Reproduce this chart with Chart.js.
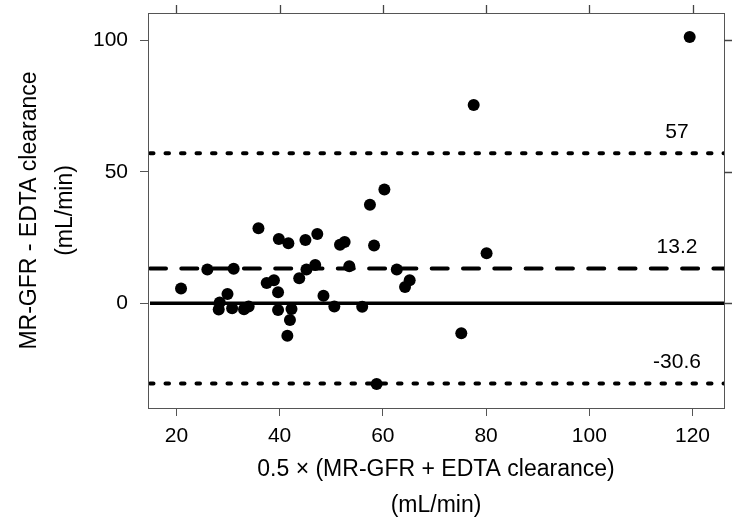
<!DOCTYPE html>
<html lang="en">
<head>
<meta charset="UTF-8">
<title>MR-GFR vs EDTA clearance</title>
<style>
  html, body { margin: 0; padding: 0; background: #fff; }
  #wrap { position: relative; width: 734px; height: 529px; }
</style>
</head>
<body>
<div id="wrap"><canvas id="myChart"></canvas></div>

<script src="https://cdn.jsdelivr.net/npm/chart.js"></script>
<script>
// mean of the two methods (x) and difference MR-GFR - EDTA (y)
const meanVals = [119.45, 77.6, 60.3, 57.5, 35.9, 47.3, 39.85, 45.0, 41.7, 52.6, 51.7,
                  58.3, 80.1, 26.0, 31.1, 46.9, 45.2, 53.5, 62.7, 43.8, 37.5, 38.9, 65.2,
                  64.3, 20.9, 39.7, 29.9, 48.5, 28.4, 28.2, 30.8, 33.1, 34.0, 39.7, 42.3,
                  50.6, 56.0, 42.0, 41.5, 75.2, 58.8];
const diffVals = [101.3, 75.4, 43.2, 37.4, 28.5, 26.3, 24.4, 24.0, 22.8, 23.3, 22.2,
                  21.9, 19.0, 12.8, 13.1, 14.5, 12.8, 14.0, 12.8, 9.5, 7.7, 8.7, 8.7,
                  6.1, 5.6, 4.1, 3.5, 2.8, 0.2, -2.4, -1.9, -2.3, -1.3, -2.6, -2.2,
                  -1.3, -1.4, -6.4, -12.4, -11.5, -30.8];

const xTicks = [20, 40, 60, 80, 100, 120];
const yTicks = [0, 50, 100];

// bias and limits of agreement
const zeroLine = 0;
const bias = 13.2;
const upperLoA = 57;
const lowerLoA = -30.6;
const refLabelX = 117;

const points = meanVals.map((v, i) => ({ x: v, y: diffVals[i] }));

const xMin = 14.5, xMax = 126.1;
const yMin = -39.9, yMax = 110.4;

const axisColor = '#555';
const fontFam = '"Liberation Sans", Arial, Helvetica, sans-serif';

// horizontal reference lines + their numbers, the panel box and top/right ticks
const refLinesPlugin = {
    id: 'refLines',
    beforeDatasetsDraw(chart) {
        const { ctx, chartArea, scales } = chart;
        const lines = [
            { v: zeroLine, dash: [], w: 3.5, cap: 'butt' },
            { v: bias, dash: [16, 15.3], w: 4, cap: 'round' },
            { v: upperLoA, dash: [3.5, 12], w: 4, cap: 'round' },
            { v: lowerLoA, dash: [3.5, 12], w: 4, cap: 'round' }
        ];
        ctx.save();
        ctx.beginPath();
        ctx.rect(chartArea.left, chartArea.top, chartArea.width, chartArea.height);
        ctx.clip();
        ctx.strokeStyle = '#000';
        lines.forEach(l => {
            const y = scales.y.getPixelForValue(l.v);
            ctx.lineWidth = l.w;
            ctx.lineCap = l.cap;
            ctx.setLineDash(l.dash);
            ctx.beginPath();
            ctx.moveTo(chartArea.left + 2, y);
            ctx.lineTo(chartArea.right, y);
            ctx.stroke();
        });
        ctx.restore();

        // numbers over the lines
        ctx.save();
        ctx.fillStyle = '#000';
        ctx.font = '21px ' + fontFam;
        ctx.textAlign = 'center';
        ctx.textBaseline = 'middle';
        [upperLoA, bias, lowerLoA].forEach(v => {
            const x = scales.x.getPixelForValue(refLabelX);
            const y = scales.y.getPixelForValue(v) - 21;
            ctx.fillText(String(v), x, y);
        });
        ctx.restore();
    },
    afterDraw(chart) {
        const { ctx, chartArea, scales } = chart;
        ctx.save();
        ctx.setLineDash([]);
        ctx.strokeStyle = axisColor;
        ctx.lineWidth = 1;
        ctx.strokeRect(Math.round(chartArea.left) + 0.5, Math.round(chartArea.top) + 0.5,
                       Math.round(chartArea.width), Math.round(chartArea.height));
        // lattice puts tick marks on all four sides
        ctx.strokeStyle = '#444';
        ctx.lineWidth = 1.3;
        ctx.beginPath();
        xTicks.forEach(t => {
            const x = Math.round(scales.x.getPixelForValue(t)) + 0.5;
            ctx.moveTo(x, chartArea.top);
            ctx.lineTo(x, chartArea.top - 8);
        });
        yTicks.forEach(t => {
            const y = Math.round(scales.y.getPixelForValue(t)) + 0.5;
            ctx.moveTo(chartArea.right, y);
            ctx.lineTo(chartArea.right + 8, y);
        });
        ctx.stroke();
        ctx.restore();
    }
};

const tickGrid = { drawOnChartArea: false, drawTicks: true, tickLength: 8, color: axisColor };

const ctx = document.getElementById('myChart');

new Chart(ctx, {
    type: 'scatter',
    data: {
        datasets: [{
            label: 'difference',
            data: points,
            pointRadius: 6,
            pointHoverRadius: 6,
            backgroundColor: '#000',
            borderWidth: 0
        }]
    },
    options: {
        responsive: true,
        maintainAspectRatio: false,
        animation: false,
        layout: { padding: { top: 13, right: 10, left: 0, bottom: 0 } },
        plugins: {
            legend: { display: false },
            tooltip: { enabled: false }
        },
        scales: {
            x: {
                type: 'linear',
                min: xMin,
                max: xMax,
                afterBuildTicks: s => { s.ticks = xTicks.map(v => ({ value: v })); },
                afterFit: s => { s.height = 121; s.paddingLeft = 0; s.paddingRight = 0; },
                grid: tickGrid,
                border: { display: false },
                ticks: {
                    color: '#000',
                    padding: 8,
                    maxRotation: 0,
                    font: { family: fontFam, size: 21 }
                },
                title: {
                    display: true,
                    text: ['0.5 \u00d7 (MR-GFR + EDTA clearance)', '(mL/min)'],
                    color: '#000',
                    font: { family: fontFam, size: 23, lineHeight: '36px' },
                    padding: { top: 0, bottom: 5 }
                }
            },
            y: {
                type: 'linear',
                min: yMin,
                max: yMax,
                afterBuildTicks: s => { s.ticks = yTicks.map(v => ({ value: v })); },
                afterFit: s => { s.width = 148; s.paddingTop = 0; s.paddingBottom = 0; },
                grid: tickGrid,
                border: { display: false },
                ticks: {
                    color: '#000',
                    padding: 12,
                    font: { family: fontFam, size: 21 }
                },
                title: {
                    display: true,
                    text: ['MR-GFR - EDTA clearance', '(mL/min)'],
                    color: '#000',
                    font: { family: fontFam, size: 23, lineHeight: '36px' },
                    padding: { top: 12, bottom: 0 }
                }
            }
        }
    },
    plugins: [refLinesPlugin]
});
</script>
</body>
</html>
